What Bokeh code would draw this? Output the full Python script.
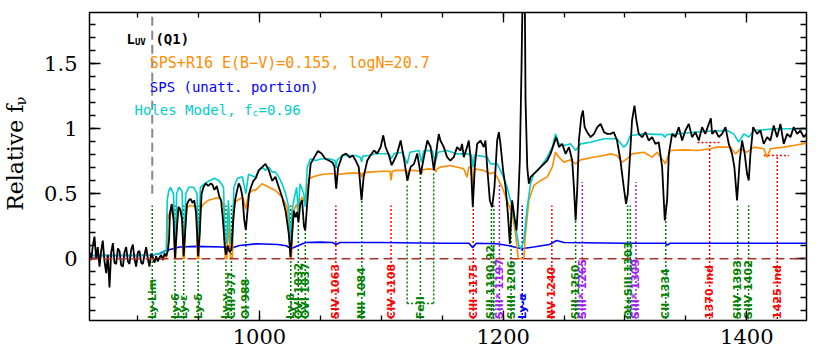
import numpy as np
from bokeh.plotting import figure
from bokeh.layouts import row
from bokeh.models import (Range1d, FixedTicker, CustomJSTickFormatter, LinearAxis,
                          Span, Label, ColumnDataSource)
from bokeh.embed import file_html
from bokeh.resources import INLINE
from bokeh.core.properties import value

# ---------------- data ----------------
BLACK_WL = [860.5, 861.9, 863.2, 864.6, 866.0, 867.3, 868.7, 870.1, 871.4, 872.8, 874.2, 875.5,
            876.9, 878.3, 879.7, 881.0, 882.4, 883.8, 885.1, 886.5, 887.9, 889.2, 890.6, 892.0,
            893.3, 894.7, 896.1, 897.4, 898.8, 900.2, 901.5, 902.9, 904.3, 905.6, 907.0, 908.4,
            909.7, 911.1, 912.5, 913.9, 915.2, 916.6, 918.0, 919.3, 920.7, 922.1, 923.4, 924.8,
            925.8, 926.5, 928.0, 929.5, 930.7, 932.0, 933.5, 935.0, 936.5, 937.8, 939.0, 940.5,
            942.0, 943.5, 945.0, 946.5, 948.0, 949.7, 951.0, 952.5, 954.0, 956.0, 958.0, 960.0,
            961.5, 963.0, 965.0, 967.0, 968.5, 970.0, 971.5, 972.5, 974.0, 975.5, 977.0, 978.5,
            980.0, 981.5, 983.0, 984.5, 986.0, 987.5, 988.8, 990.0, 991.5, 993.0, 995.0, 997.0,
            999.4, 1002.2, 1004.9, 1007.7, 1010.4, 1013.1, 1015.9, 1018.6, 1021.4, 1024.1, 1025.5,
            1026.8, 1028.2, 1029.6, 1030.8, 1032.0, 1033.5, 1035.0, 1036.5, 1037.6, 1039.0, 1040.5,
            1042.0, 1045.0, 1048.0, 1051.0, 1054.0, 1057.0, 1060.0, 1061.5, 1063.0, 1064.5, 1068.0,
            1071.0, 1074.0, 1076.5, 1079.0, 1081.5, 1083.8, 1085.5, 1088.5, 1091.0, 1094.0, 1096.7,
            1099.5, 1101.6, 1103.5, 1106.3, 1108.5, 1110.4, 1113.0, 1115.9, 1118.6, 1121.4, 1124.0,
            1126.8, 1129.5, 1132.3, 1135.0, 1137.8, 1140.5, 1143.2, 1146.0, 1147.2, 1148.5, 1151.3,
            1154.0, 1156.7, 1159.5, 1162.2, 1165.0, 1166.3, 1167.7, 1170.4, 1171.8, 1173.2, 1175.1,
            1176.7, 1178.7, 1181.4, 1184.1, 1185.5, 1186.9, 1189.1, 1191.0, 1192.9, 1195.1, 1196.5,
            1197.8, 1200.0, 1202.0, 1203.9, 1205.5, 1207.4, 1209.3, 1211.0, 1212.4, 1213.7, 1215.1,
            1215.9, 1217.8, 1218.4, 1219.8, 1221.1, 1222.5, 1225.2, 1228.0, 1230.7, 1233.5, 1236.2,
            1238.9, 1241.7, 1243.6, 1245.8, 1248.5, 1251.3, 1254.0, 1256.7, 1258.1, 1259.5, 1260.9,
            1262.2, 1264.1, 1265.5, 1266.9, 1269.0, 1271.8, 1274.6, 1277.3, 1280.0, 1282.8, 1285.5,
            1288.1, 1290.8, 1293.5, 1296.3, 1299.0, 1300.9, 1302.3, 1303.9, 1305.8, 1307.8, 1309.4,
            1311.3, 1314.1, 1316.8, 1319.5, 1322.3, 1325.0, 1327.7, 1330.5, 1332.7, 1334.6, 1336.0,
            1338.7, 1341.4, 1344.2, 1346.9, 1349.6, 1352.4, 1355.1, 1357.8, 1360.6, 1363.3, 1366.0,
            1368.8, 1370.5, 1371.5, 1374.2, 1377.0, 1379.7, 1382.5, 1385.2, 1387.9, 1389.8, 1392.0,
            1394.2, 1396.1, 1398.3, 1400.2, 1401.6, 1403.0, 1405.2, 1408.4, 1411.2, 1413.9, 1416.7,
            1419.4, 1422.1, 1424.9, 1427.6, 1430.3, 1433.1, 1435.8, 1438.5, 1441.3, 1444.0, 1446.7,
            1449.0]
BLACK_FLUX = [0.05, -0.01, 0.10, 0.17, 0.00, 0.09, -0.06, 0.06, 0.14, -0.02, -0.11, 0.03,
              -0.22, 0.05, 0.12, -0.03, -0.04, 0.08, 0.06, -0.05, -0.06, 0.05, 0.09, -0.02,
              -0.04, 0.07, 0.11, 0.00, -0.06, 0.05, 0.06, -0.03, -0.04, 0.03, 0.09, 0.00,
              -0.06, 0.04, 0.01, -0.03, 0.02, -0.02, 0.01, 0.03, -0.01, 0.04, 0.02, 0.06,
              0.15, 0.35, 0.42, 0.30, 0.00, 0.20, 0.40, 0.38, 0.30, 0.02, 0.20, 0.42,
              0.45, 0.46, 0.43, 0.45, 0.35, 0.02, 0.20, 0.50, 0.55, 0.58, 0.56, 0.58,
              0.57, 0.53, 0.56, 0.48, 0.45, 0.30, 0.10, 0.03, 0.10, 0.05, 0.07, 0.30,
              0.45, 0.52, 0.58, 0.55, 0.48, 0.30, 0.22, 0.35, 0.50, 0.55, 0.60, 0.62,
              0.68, 0.705, 0.73, 0.68, 0.60, 0.63, 0.55, 0.475, 0.37, 0.19, 0.013,
              0.19, 0.37, 0.32, 0.36, 0.28, 0.42, 0.45, 0.25, 0.22, 0.40, 0.58,
              0.73, 0.78, 0.83, 0.81, 0.77, 0.756, 0.74, 0.71, 0.54, 0.70, 0.795,
              0.81, 0.78, 0.795, 0.756, 0.705, 0.45, 0.63, 0.756, 0.795, 0.833, 0.81,
              0.86, 0.95, 0.86, 0.795, 0.72, 0.756, 0.81, 0.91, 0.77, 0.60, 0.705,
              0.73, 0.81, 0.65, 0.782, 0.91, 0.86, 0.68, 0.884, 0.96, 0.91, 0.859,
              0.782, 0.756, 0.782, 0.859, 0.833, 0.884, 0.782, 0.859, 0.91, 0.782, 0.397,
              0.705, 0.884, 0.91, 0.859, 0.91, 0.705, 0.449, 0.397, 0.551, 0.91, 0.974,
              0.884, 0.679, 0.551, 0.346, 0.115, 0.449, 0.32, 0.218, 0.449, 0.756, 1.474,
              2.0, 2.0, 1.218, 0.705, 0.577, 0.628, 0.654, 0.679, 0.705, 0.731, 0.756,
              0.807, 0.884, 0.936, 0.859, 0.884, 0.807, 0.859, 0.756, 0.551, 0.295, 0.551,
              0.91, 1.09, 1.141, 1.013, 0.974, 0.936, 0.961, 1.013, 1.038, 0.974, 0.961,
              0.961, 0.974, 0.91, 0.756, 0.551, 0.423, 0.50, 0.756, 1.064, 1.179, 1.064,
              0.961, 0.936, 0.974, 0.91, 0.936, 0.884, 0.897, 0.705, 0.295, 0.449, 0.807,
              0.961, 0.936, 1.013, 0.91, 0.987, 1.038, 0.936, 0.974, 0.91, 1.013, 0.961,
              1.038, 1.08, 0.961, 0.987, 0.936, 0.961, 1.013, 0.884, 0.807, 0.705, 0.449,
              0.756, 0.91, 0.807, 0.654, 0.603, 0.807, 1.013, 0.961, 0.987, 0.884, 0.936,
              0.91, 1.025, 0.936, 1.038, 0.884, 0.961, 0.936, 1.013, 0.961, 0.987, 0.936,
              0.961]

ORANGE_WL = [912, 923, 924, 924.6, 926, 928, 929.8, 930.4, 931.2, 932.2, 934, 936.5, 937.4, 938.3,
             939.3, 941, 944, 948, 949.2, 950.3, 951.5, 954, 958, 962, 965, 968, 970.8, 971.8,
             973.3, 974.5, 976.2, 977.8, 978.8, 980.5, 983.6, 986.5, 988.8, 991, 995, 996.7,
             1002.2, 1007.7, 1013.1, 1018.6, 1022.7, 1024.5, 1025.4, 1026.2, 1027, 1028.2, 1030.5,
             1031.9, 1033.3, 1035, 1037.6, 1040.5, 1044.6, 1051.5, 1057, 1062, 1062.9, 1064,
             1073.4, 1083, 1083.8, 1085, 1089.9, 1100.8, 1107.2, 1108, 1109, 1111.8, 1120.6,
             1121.4, 1122.4, 1125.5, 1132.3, 1132.9, 1134, 1139.2, 1144.2, 1144.7, 1145.5, 1148.5,
             1156.7, 1167.7, 1170.4, 1171.8, 1174.3, 1175.1, 1176.7, 1184.1, 1189.6, 1192.4,
             1195.1, 1199.2, 1203.3, 1207.4, 1210.2, 1212.4, 1217, 1218.4, 1221.1, 1225.2, 1230.7,
             1236.2, 1240.3, 1243, 1245.8, 1249.9, 1255.4, 1259.5, 1263.6, 1271.8, 1282.8, 1288.1,
             1293.5, 1297.6, 1301.7, 1305.8, 1315.4, 1322.3, 1326.4, 1333.2, 1337.3, 1348.3,
             1359.2, 1370.1, 1375.6, 1386.6, 1390.7, 1394.8, 1400.2, 1405.7, 1413.9, 1416.7,
             1419.4, 1430.3, 1438.5, 1449]
ORANGE_FLUX = [0.0, 0.0, 0.02, 0.35, 0.30, 0.38, 0.30, 0.0, 0.0, 0.30, 0.38, 0.36, 0.0, 0.0,
               0.35, 0.40, 0.41, 0.40, 0.0, 0.0, 0.38, 0.42, 0.45, 0.46, 0.47, 0.46, 0.40, 0.0,
               0.0, 0.30, 0.0, 0.0, 0.38, 0.44, 0.46, 0.47, 0.38, 0.50, 0.53, 0.526,
               0.577, 0.551, 0.526, 0.474, 0.397, 0.20, 0.0, 0.0, 0.20, 0.372, 0.42,
               0.35, 0.44, 0.474, 0.42, 0.615, 0.633, 0.649, 0.654, 0.654, 0.54, 0.649,
               0.659, 0.66, 0.628, 0.66, 0.667, 0.674, 0.674, 0.603, 0.674, 0.68, 0.68,
               0.603, 0.68, 0.68, 0.675, 0.649, 0.685, 0.692, 0.685, 0.667, 0.69, 0.705,
               0.718, 0.692, 0.628, 0.705, 0.70, 0.474, 0.692, 0.679, 0.654, 0.665,
               0.628, 0.551, 0.449, 0.346, 0.192, 0.0, 0.0, 0.192, 0.449, 0.564, 0.602,
               0.628, 0.705, 0.82, 0.782, 0.743, 0.761, 0.731, 0.761, 0.777, 0.795, 0.807,
               0.795, 0.743, 0.769, 0.807, 0.82, 0.782, 0.82, 0.731, 0.833, 0.838,
               0.833, 0.846, 0.859, 0.859, 0.807, 0.846, 0.82, 0.859, 0.846, 0.782,
               0.846, 0.859, 0.871, 0.89]

CYAN_WL = [860.5, 912, 920, 923.5, 924.3, 925.5, 927, 929.5, 930.3, 931.1, 932, 934, 936.5, 937.4,
           938.2, 939.5, 942, 946, 948.8, 949.4, 950.2, 951.5, 955, 959, 963, 967, 970.5, 971.9,
           973.1, 974.5, 976.3, 977.6, 979, 982, 986, 988.8, 991, 996.7, 999.4, 1002.2, 1004.9,
           1007.7, 1010.4, 1013.1, 1015.9, 1018.6, 1021.4, 1024.1, 1025.7, 1026.8, 1028.2, 1030.5,
           1031.9, 1033.3, 1036.4, 1037.6, 1039.2, 1041.9, 1046, 1051.5, 1057, 1062, 1062.9,
           1063.8, 1068, 1073.4, 1078.9, 1083, 1083.8, 1084.8, 1089.9, 1095.3, 1100.8, 1106.3,
           1108.3, 1110.5, 1117.3, 1121.3, 1123.5, 1131, 1132.9, 1134.8, 1141.9, 1144.2, 1146.5,
           1154, 1162.2, 1170.4, 1174, 1175.1, 1176.5, 1178.7, 1186.9, 1189.6, 1192.4, 1195.1,
           1199.2, 1203.3, 1207.4, 1210.2, 1212.9, 1214.8, 1217, 1219.8, 1222.5, 1225.2, 1230.7,
           1236.2, 1240.3, 1243, 1245.8, 1249.9, 1255.4, 1259.5, 1263.6, 1271.8, 1282.8, 1293.5,
           1299, 1301.7, 1304.5, 1315.4, 1331, 1332.7, 1334.5, 1342.8, 1356.5, 1370.1, 1383.8,
           1389.3, 1393.4, 1397.5, 1401.6, 1405.7, 1424.9, 1449]
CYAN_FLUX = [0.025, 0.027, 0.045, 0.06, 0.45, 0.52, 0.55, 0.50, 0.12, 0.12, 0.50, 0.55, 0.52, 0.12,
             0.12, 0.50, 0.55, 0.55, 0.50, 0.12, 0.12, 0.55, 0.58, 0.60, 0.62, 0.60, 0.55, 0.12,
             0.12, 0.45, 0.12, 0.12, 0.55, 0.62, 0.63, 0.50, 0.65, 0.628, 0.68, 0.705, 0.68,
             0.705, 0.667, 0.667, 0.628, 0.577, 0.50, 0.397, 0.12, 0.372, 0.449, 0.55,
             0.35, 0.577, 0.50, 0.40, 0.705, 0.77, 0.756, 0.77, 0.77, 0.756, 0.70,
             0.76, 0.795, 0.795, 0.795, 0.78, 0.744, 0.79, 0.795, 0.808, 0.808, 0.808,
             0.77, 0.81, 0.82, 0.73, 0.82, 0.833, 0.744, 0.83, 0.833, 0.744, 0.82,
             0.833, 0.807, 0.807, 0.80, 0.705, 0.80, 0.795, 0.782, 0.73, 0.73, 0.73,
             0.654, 0.551, 0.397, 0.243, 0.10, 0.077, 0.141, 0.397, 0.577, 0.654, 0.705,
             0.782, 0.859, 0.961, 0.884, 0.872, 0.884, 0.833, 0.884, 0.897, 0.923, 0.923,
             0.859, 0.884, 0.948, 0.961, 0.955, 0.936, 0.955, 0.961, 0.974, 0.982, 0.987,
             0.961, 0.897, 0.961, 0.936, 0.987, 1.0, 1.0]

BLUE_WL = [860.5, 900, 912, 918, 923.4, 934.4, 948, 970, 975.4, 983.6, 997.3, 1015, 1022, 1026,
           1030, 1038, 1050, 1060, 1063, 1066, 1100, 1150, 1172, 1175, 1178, 1195, 1205, 1215,
           1225, 1238, 1244, 1250, 1300, 1333, 1335, 1337, 1400, 1449]
BLUE_FLUX = [0.025, 0.025, 0.027, 0.04, 0.064, 0.09, 0.095, 0.09, 0.077, 0.102, 0.115, 0.11, 0.10,
             0.077, 0.095, 0.125, 0.128, 0.125, 0.11, 0.125, 0.125, 0.12, 0.12, 0.085, 0.12,
             0.115, 0.10, 0.077, 0.09, 0.11, 0.14, 0.125, 0.12, 0.12, 0.105, 0.12, 0.12, 0.12]

# absorption-line markers
LINE_LABEL = ["Ly-Lim", "Ly-6", "Ly-ε", "Ly-δ", "Ly-γ", "CIII 977", "OI 988", "Ly-β",
              "OVI 1032", "OVI 1037", "SIV 1063", "NII 1084", "CIV 1108", "FeII", "CIII 1175",
              "SiII 1190,92", "SiII* 1197", "SiIII 1206", "Ly-α", "NV 1240", "SiII 1260",
              "SiII* 1265", "OI+SiII 1303", "SiII* 1309", "CII 1334", "1370 ind", "SiIV 1393",
              "SiIV 1402", "1425 ind"]
LABEL_WL = [912.0, 930.7, 937.8, 949.7, 972.5, 977.0, 988.8, 1025.7, 1031.9, 1037.6, 1062.7,
            1084.0, 1108.0, 1132.1, 1175.5, 1190.0, 1197.0, 1206.5, 1215.7, 1240.0, 1259.5,
            1265.0, 1303.0, 1309.0, 1333.5, 1369.5, 1392.5, 1401.5, 1425.0]
LABEL_COLOR = ["g", "g", "g", "g", "g", "g", "g", "g", "g", "g", "r", "g", "r", "g", "r",
               "g", "p", "g", "b", "r", "g", "p", "g", "p", "g", "r", "g", "g", "r"]

TICK_WL = [912.0, 930.7, 937.8, 949.7, 972.5, 977.0, 988.8, 1025.7, 1031.9, 1037.6, 1062.7,
           1084.0, 1108.0, 1121.2, 1132.1, 1143.0, 1175.5, 1190.4, 1192.4, 1197.0, 1206.5,
           1215.7, 1240.0, 1259.5, 1265.0, 1302.2, 1304.4, 1309.0, 1333.5, 1369.5, 1392.5,
           1401.5, 1425.0]
TICK_TOP = [0.41, 0.41, 0.41, 0.41, 0.41, 0.41, 0.20, 0.41, 0.27, 0.27, 0.41, 0.45, 0.41,
            0.57, 0.67, 0.67, 0.40, 0.41, 0.41, 0.59, 0.41, 0.41, 0.41, 0.41, 0.59, 0.41,
            0.41, 0.59, 0.41, 0.895, 0.41, 0.41, 0.795]
TICK_BOTTOM = [-0.463] * 13 + [-0.344, -0.463, -0.344] + [-0.463] * 17
TICK_COLOR = ["g", "g", "g", "g", "g", "g", "g", "g", "g", "g", "r", "g", "r", "g", "g", "g",
              "r", "g", "g", "p", "g", "b", "r", "g", "p", "g", "g", "p", "g", "r", "g", "g", "r"]

# horizontal brackets (FeII group, 1370 and 1425 indices)
BRACKET_X0 = [1121.2, 1359.5, 1414.0]
BRACKET_X1 = [1143.0, 1378.0, 1434.5]
BRACKET_Y = [-0.344, 0.895, 0.795]
BRACKET_COLOR = ["g", "r", "r"]

LY_LIMIT = 912.0
XTICKS = [1000, 1200, 1400]
XMINOR = [900, 950, 1000, 1050, 1100, 1150, 1200, 1250, 1300, 1350, 1400]
YTICKS = [0, 0.5, 1, 1.5]
YMINOR = [-0.4, -0.3, -0.2, -0.1, 0, 0.1, 0.2, 0.3, 0.4, 0.5, 0.6, 0.7, 0.8, 0.9, 1.0, 1.1,
          1.2, 1.3, 1.4, 1.5, 1.6, 1.7, 1.8]

PALETTE = {"g": "#008000", "r": "#ff0000", "p": "#a020f0", "b": "#0000ff"}

# ---------------- main figure ----------------
p = figure(width=788, height=352, output_backend="svg", toolbar_location=None,
           x_range=Range1d(860.5, 1449.0), y_range=Range1d(-0.475, 1.895),
           min_border_left=59, min_border_right=12, min_border_top=12, min_border_bottom=32)
p.xgrid.visible = False
p.ygrid.visible = False
p.outline_line_color = "black"
p.outline_line_width = 1.5
p.background_fill_color = "white"
p.border_fill_color = "white"

xtick = FixedTicker(ticks=XTICKS, minor_ticks=XMINOR)
ytick = FixedTicker(ticks=YTICKS, minor_ticks=YMINOR)
fmt = CustomJSTickFormatter(code="return String(tick)")
blank = CustomJSTickFormatter(code="return ''")


def style_axis(ax, major_len, minor_len):
    ax.axis_line_color = None
    ax.major_tick_in = major_len
    ax.major_tick_out = 0
    ax.minor_tick_in = minor_len
    ax.minor_tick_out = 0
    ax.major_tick_line_color = "black"
    ax.minor_tick_line_color = "black"
    ax.major_tick_line_width = 1.3
    ax.minor_tick_line_width = 1.3
    ax.major_label_text_font = "DejaVu Serif"
    ax.major_label_text_font_size = "21px"
    ax.major_label_text_color = "black"


xax = p.xaxis[0]
xax.ticker = xtick
xax.formatter = fmt
style_axis(xax, 10, 5)
xax.major_label_standoff = 8

yax = p.yaxis[0]
yax.ticker = ytick
yax.formatter = fmt
style_axis(yax, 11, 6)
yax.major_label_standoff = 12

top_ax = LinearAxis(ticker=xtick, formatter=blank, major_label_standoff=0)
style_axis(top_ax, 10, 5)
p.add_layout(top_ax, "above")
right_ax = LinearAxis(ticker=ytick, formatter=blank, major_label_standoff=0)
style_axis(right_ax, 11, 6)
p.add_layout(right_ax, "right")

# marker dotted lines
tick_src = ColumnDataSource(dict(x=TICK_WL, y0=TICK_BOTTOM, y1=TICK_TOP,
                                 c=[PALETTE[k] for k in TICK_COLOR]))
p.segment(x0="x", y0="y0", x1="x", y1="y1", line_color="c", line_dash="2 2",
          line_width=1.5, source=tick_src)
br_src = ColumnDataSource(dict(x0=BRACKET_X0, x1=BRACKET_X1, y=BRACKET_Y,
                               c=[PALETTE[k] for k in BRACKET_COLOR]))
p.segment(x0="x0", y0="y", x1="x1", y1="y", line_color="c", line_dash="2 2",
          line_width=1.5, source=br_src)

# zero line
p.add_layout(Span(location=0, dimension="width", line_color="#b0302c", line_width=1.5,
                  line_dash="9 5"))

# spectra
p.line(BLUE_WL, BLUE_FLUX, line_color="#0000ff", line_width=1.6)
p.line(ORANGE_WL, ORANGE_FLUX, line_color="#ff8c00", line_width=1.6)
p.line(CYAN_WL, CYAN_FLUX, line_color="#00cdcd", line_width=1.6)
p.line(BLACK_WL, BLACK_FLUX, line_color="black", line_width=1.8)

# Lyman limit dashed line
p.segment(x0=[LY_LIMIT], y0=[0.5], x1=[LY_LIMIT], y1=[1.895], line_color="#888888",
          line_width=2, line_dash="9 5")

# marker labels
lab_src = ColumnDataSource(dict(x=LABEL_WL, y=[-0.463] * len(LABEL_WL), t=LINE_LABEL,
                                c=[PALETTE[k] for k in LABEL_COLOR]))
p.text(x="x", y="y", text="t", text_color="c", angle=np.pi / 2, source=lab_src,
       text_font=value("DejaVu Sans"), text_font_style="bold", text_font_size="11px",
       text_align="left", text_baseline="middle")

# annotation texts
MONO = "DejaVu Sans Mono"
ann = [
    dict(x=890.85, y=1.689, text="L", size="14px", style="bold", color="black"),
    dict(x=897.8, y=1.668, text="UV", size="9px", style="bold", color="black"),
    dict(x=914.6, y=1.689, text="(Q1)", size="14px", style="bold", color="black"),
    dict(x=909.97, y=1.505, text="SPS+R16 E(B\u2212V)=0.155, logN=20.7", size="15px",
         style="normal", color="#ff8c00"),
    dict(x=909.97, y=1.318, text="SPS (unatt. portion)", size="14px", style="normal",
         color="#0000ff"),
    dict(x=897.4, y=1.146, text="Holes Model, f", size="14px", style="normal", color="#00cdcd"),
    dict(x=994.3, y=1.125, text="c", size="9px", style="normal", color="#00cdcd"),
    dict(x=999.2, y=1.146, text="=0.96", size="14px", style="normal", color="#00cdcd"),
]
for a in ann:
    p.add_layout(Label(x=a["x"], y=a["y"], text=a["text"], text_font=MONO,
                       text_font_size=a["size"], text_font_style=a["style"],
                       text_color=a["color"], text_baseline="alphabetic", text_align="left"))

# ---------------- y-axis title strip ----------------
q = figure(width=30, height=352, output_backend="svg", toolbar_location=None,
           x_range=Range1d(0, 30), y_range=Range1d(0, 352),
           x_axis_location=None, y_axis_location=None,
           min_border_left=0, min_border_right=0, min_border_top=0, min_border_bottom=0)
q.xgrid.visible = False
q.ygrid.visible = False
q.outline_line_color = None
q.background_fill_color = "white"
q.border_fill_color = "white"
q.text(x=[15], y=[186], text=["Relative f"], angle=np.pi / 2,
       text_font=value("DejaVu Serif"), text_font_size="22px", text_color="black",
       text_align="center", text_baseline="middle")
q.text(x=[20], y=[251], text=["\u03bd"], angle=np.pi / 2,
       text_font=value("DejaVu Serif"), text_font_size="15px", text_color="black",
       text_align="center", text_baseline="middle")

layout = row(q, p, spacing=0)
open("out.html", "w").write(file_html(layout, INLINE))
